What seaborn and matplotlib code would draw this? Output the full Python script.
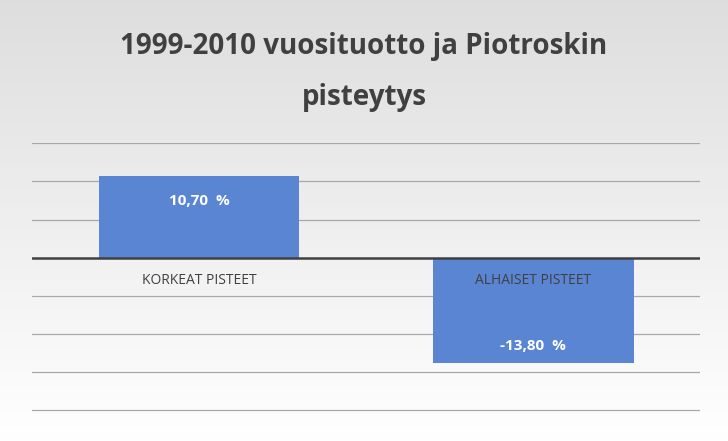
import matplotlib
matplotlib.use("Agg")
import matplotlib.pyplot as plt
import seaborn as sns
import numpy as np
import pandas as pd

categories = ["KORKEAT PISTEET", "ALHAISET PISTEET"]
values = [10.70, -13.80]
value_labels = ["10,70  %", "-13,80  %"]

sns.set_theme(style="white")
plt.rcParams['font.family'] = ['Open Sans', 'DejaVu Sans']

fig = plt.figure(figsize=(7.28, 4.41), dpi=100)
bg = fig.add_axes([0, 0, 1, 1], zorder=-10)
grad = np.linspace(0.87, 1.0, 256).reshape(-1, 1)
bg.imshow(np.dstack([grad, grad, grad]), aspect='auto', extent=[0, 1, 0, 1])
bg.axis('off')

ax = fig.add_axes([0.044, 0.066, 0.918, 0.609])
ax.set_facecolor('none')
df = pd.DataFrame({"cat": categories, "val": values})
sns.barplot(data=df, x="cat", y="val", color="#5a85d3", saturation=1, width=0.6,
            edgecolor='none', linewidth=0, ax=ax, zorder=3)
ax.set_ylim(-20.25, 15)
ax.set_xlim(-0.5, 1.5)
for y in range(-20, 16, 5):
    if y == 0:
        ax.axhline(y, color="#404040", lw=1.8, zorder=4)
    else:
        ax.axhline(y, color="#a8a8a8", lw=0.9, zorder=1)
for s in ax.spines.values():
    s.set_visible(False)
ax.set_xticks([]); ax.set_yticks([])
ax.set_xlabel(""); ax.set_ylabel("")

for i, (v, lab) in enumerate(zip(values, value_labels)):
    ax.text(i, v * 0.69 if v > 0 else v * 0.84, lab, ha='center', va='center',
            color='white', fontsize=11, fontweight='bold', zorder=5)
for i, c in enumerate(categories):
    ax.text(i, -3.0, c, ha='center', va='center', color='#404040', fontsize=10, zorder=5)

fig.text(0.5, 0.895, "1999-2010 vuosituotto ja Piotroskin", ha='center', va='center',
         fontsize=20, fontweight='bold', color='#404040')
fig.text(0.5, 0.78, "pisteytys", ha='center', va='center',
         fontsize=20, fontweight='bold', color='#404040')

fig.savefig("out.png", dpi=100)
